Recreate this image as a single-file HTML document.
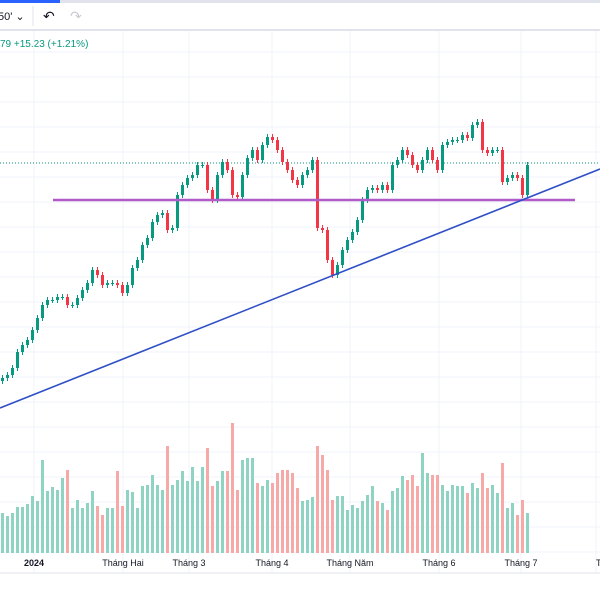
<!DOCTYPE html>
<html><head><meta charset="utf-8"><style>
html,body{margin:0;padding:0;background:#fff;width:600px;height:600px;overflow:hidden;font-family:"Liberation Sans",sans-serif}
svg{display:block}
</style></head><body>
<svg id="c" width="600" height="600" viewBox="0 0 600 600">
 <rect x="0" y="0" width="600" height="600" fill="#fff"/>
 <g>
  <rect x="0" y="0" width="600" height="3" fill="#e0e3eb"/>
  <rect x="0" y="0" width="60" height="3" fill="#2962ff"/>
  <text x="-2" y="20" font-size="11" fill="#131722">50' ⌄</text>
  <line x1="33" y1="6" x2="33" y2="26" stroke="#e0e3eb"/>
  <text x="43" y="21" font-size="14" fill="#131722">↶</text>
  <text x="70" y="21" font-size="14" fill="#c8cbd3">↷</text>
  <rect x="0" y="29" width="600" height="2" fill="#e0e3eb"/>
 </g>
 <text x="0" y="47" font-size="10" fill="#089981">79  +15.23 (+1.21%)</text>
 <g id="grid"></g>
 <g id="vol"></g>
 <line x1="0" y1="163" x2="600" y2="163" stroke="#089981" stroke-dasharray="1,2" stroke-width="1"/>
 <g id="candles"></g>
 <line x1="53" y1="200" x2="575" y2="200" stroke="#b05bc8" stroke-width="2.5"/>
 <line x1="0" y1="408" x2="600" y2="169" stroke="#2f4fc6" stroke-width="1.6"/>
 <line x1="0" y1="573" x2="600" y2="573" stroke="#e0e3eb"/>
 <g id="xaxis"></g>
</svg>
<script>
const closes=[222,225,232,248,255,260,270,282,295,300,300,303,303,295,295,302,310,317,330,325,315,317,317,315,307,315,332,340,355,362,378,385,387,370,372,405,415,422,425,435,435,410,400,425,438,430,405,403,425,442,450,440,455,463,460,450,438,430,420,415,425,430,440,372,370,340,325,335,350,360,368,380,400,410,412,410,415,410,435,440,450,445,435,430,440,450,440,430,455,458,460,460,465,462,475,478,450,447,450,450,418,422,425,422,405,435];
const volumes=[40,37,40,46,46,49,57,52,93,62,66,63,75,83,45,53,45,50,62,47,38,45,45,82,47,63,61,45,67,68,78,68,63,107,68,73,82,72,86,72,86,105,67,72,82,82,130,63,93,95,95,70,67,73,70,80,83,83,80,65,52,53,56,107,98,83,53,57,57,43,48,45,52,58,67,52,50,43,62,65,77,73,78,67,100,80,78,78,68,62,68,67,67,60,70,65,80,65,68,60,90,45,50,38,53,40];
const monthLabels=["2024","Tháng Hai","Tháng 3","Tháng 4","Tháng Năm","Tháng 6","Tháng 7","Th"];
const monthIdx=[6.6,24.4,37.6,54.2,69.8,87.6,104,119];
const NS="http://www.w3.org/2000/svg";
const step=5,x0=1;
function xOf(i){return x0+i*step;}
function yOf(p){return 600-p;}
function vY(v){return 553-v;}
function mk(t,a,p){const e=document.createElementNS(NS,t);for(const k in a)e.setAttribute(k,a[k]);p.appendChild(e);return e;}
const grid=document.getElementById('grid');
for(let y=52;y<560;y+=25){const l=mk('line',{x1:0,y1:y,x2:600,y2:y,stroke:'#f0f3fa'},grid);

}
const xa=document.getElementById('xaxis');
monthIdx.forEach((m,i)=>{const x=xOf(m);
const l=mk('line',{x1:x,y1:31,x2:x,y2:573,stroke:'#f0f3fa'},grid);


const t=mk('text',{x:x,y:566,'font-size':9,fill:'#131722','text-anchor':i==7?'start':'middle','font-weight':i==0?'bold':'normal'},xa);
t.textContent=monthLabels[i];

});
const cg=document.getElementById('candles'),vg=document.getElementById('vol');
closes.forEach((c,i)=>{const o=i?closes[i-1]:c-3;const up=c>=o;const x=xOf(i);
const top=yOf(Math.max(o,c)),bot=yOf(Math.min(o,c));
const col=up?'#089981':'#f23645';
const w=mk('line',{x1:x+1.5,y1:top-3,x2:x+1.5,y2:bot+3,stroke:col,'stroke-width':1},cg);


const b=mk('rect',{x:x,y:top,width:3,height:Math.max(1,bot-top),fill:col},cg);


const v=volumes[i];
const r=mk('rect',{x:x,y:vY(v),width:3,height:v,fill:up?'#8fd3c2':'#f7a9a7'},vg);

});
</script>
</body></html>
